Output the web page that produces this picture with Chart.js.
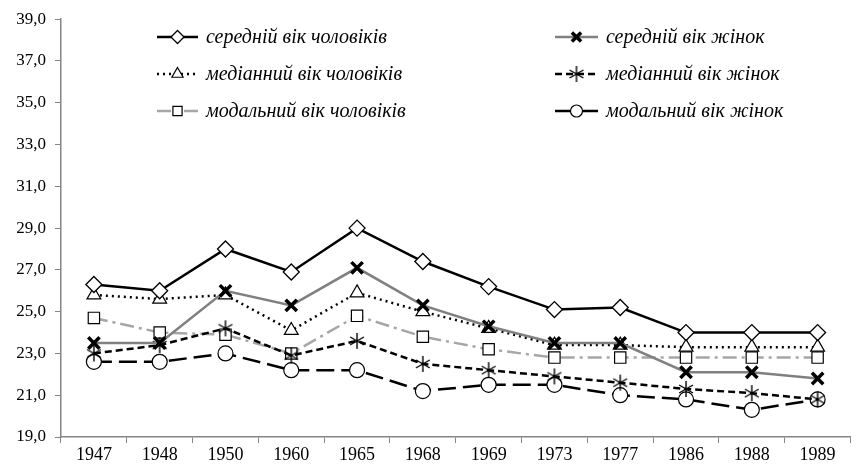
<!DOCTYPE html>
<html>
<head>
<meta charset="utf-8">
<script src="https://cdn.jsdelivr.net/npm/chart.js@4.4.1/dist/chart.umd.min.js"></script>
<style>
  html, body { margin: 0; padding: 0; background: #fff; }
  #wrap { width: 862px; height: 467px; }
</style>
</head>
<body>
<div id="wrap"><canvas id="chart" width="862" height="467"></canvas></div>
<script>
const years = ['1947', '1948', '1950', '1960', '1965', '1968', '1969', '1973', '1977', '1986', '1988', '1989'];

const meanMen = [26.3, 26.0, 28.0, 26.9, 29.0, 27.4, 26.2, 25.1, 25.2, 24.0, 24.0, 24.0];
const meanWomen = [23.5, 23.5, 26.0, 25.3, 27.1, 25.3, 24.3, 23.5, 23.5, 22.1, 22.1, 21.8];
const medianMen = [25.8, 25.6, 25.8, 24.1, 25.9, 25.0, 24.2, 23.4, 23.4, 23.3, 23.3, 23.3];
const medianWomen = [23.0, 23.4, 24.2, 22.9, 23.6, 22.5, 22.2, 21.9, 21.6, 21.3, 21.1, 20.8];
const modalMen = [24.7, 24.0, 23.9, 23.0, 24.8, 23.8, 23.2, 22.8, 22.8, 22.8, 22.8, 22.8];
const modalWomen = [22.6, 22.6, 23.0, 22.2, 22.2, 21.2, 21.5, 21.5, 21.0, 20.8, 20.3, 20.8];

const yTicks = [19, 21, 23, 25, 27, 29, 31, 33, 35, 37, 39];

// asterisk with 6 arms, like the original marker
function makeAsterisk(size) {
  const c = document.createElement('canvas');
  c.width = size; c.height = size;
  const g = c.getContext('2d');
  const r = size / 2 - 1;
  g.strokeStyle = '#000';
  g.lineWidth = 1.4;
  g.beginPath();
  for (let a = 0; a < 3; a++) {
    const ang = Math.PI / 2 + a * Math.PI / 3;
    g.moveTo(size / 2 + Math.cos(ang) * r, size / 2 + Math.sin(ang) * r);
    g.lineTo(size / 2 - Math.cos(ang) * r, size / 2 - Math.sin(ang) * r);
  }
  g.stroke();
  return c;
}
const asterisk = makeAsterisk(18);

const datasets = [
  {
    label: 'середній вік чоловіків', data: meanMen,
    borderColor: '#000', borderWidth: 2.5,
    pointStyle: 'rectRot', pointRadius: 8, pointBackgroundColor: '#fff', pointBorderColor: '#000', pointBorderWidth: 1.3
  },
  {
    label: 'середній вік жінок', data: meanWomen,
    borderColor: '#808080', borderWidth: 2.5,
    pointStyle: 'crossRot', pointRadius: 8, pointBorderColor: '#000', pointBorderWidth: 3.5
  },
  {
    label: 'медіанний вік чоловіків', data: medianMen,
    borderColor: '#000', borderWidth: 2.5, borderDash: [2, 4],
    pointStyle: 'triangle', pointRadius: 8, pointBackgroundColor: '#fff', pointBorderColor: '#000', pointBorderWidth: 1.2
  },
  {
    label: 'медіанний вік жінок', data: medianWomen,
    borderColor: '#000', borderWidth: 2.5, borderDash: [7, 4],
    pointStyle: asterisk, pointRadius: 9
  },
  {
    label: 'модальний вік чоловіків', data: modalMen,
    borderColor: '#a6a6a6', borderWidth: 2.5, borderDash: [14, 5, 3, 5],
    pointStyle: 'rect', pointRadius: 8, pointBackgroundColor: '#fff', pointBorderColor: '#000', pointBorderWidth: 1.2
  },
  {
    label: 'модальний вік жінок', data: modalWomen,
    borderColor: '#000', borderWidth: 2.5, borderDash: [18, 7],
    pointStyle: 'circle', pointRadius: 7.5, pointBackgroundColor: '#fff', pointBorderColor: '#000', pointBorderWidth: 1.2
  }
];

// legend in two columns drawn inside the plot area
const twoColLegend = {
  id: 'twoColLegend',
  afterDraw(chart) {
    const ctx = chart.ctx;
    const cols = [{ x0: 157, x1: 198, tx: 206 }, { x0: 555, x1: 598, tx: 606 }];
    const rows = [37, 74, 111];
    chart.data.datasets.forEach((ds, i) => {
      const col = cols[i % 2];
      const y = rows[Math.floor(i / 2)];
      ctx.save();
      ctx.strokeStyle = ds.borderColor;
      ctx.lineWidth = ds.borderWidth;
      ctx.setLineDash(ds.borderDash || []);
      ctx.beginPath();
      ctx.moveTo(col.x0, y);
      ctx.lineTo(col.x1, y);
      ctx.stroke();
      ctx.setLineDash([]);
      ctx.fillStyle = ds.pointBackgroundColor || '#fff';
      ctx.strokeStyle = ds.pointBorderColor || '#000';
      ctx.lineWidth = ds.pointBorderWidth || 1;
      Chart.helpers.drawPoint(ctx, {
        pointStyle: ds.pointStyle,
        radius: ds.pointRadius - 1.5,
        borderWidth: ds.pointBorderWidth || 1,
        rotation: 0
      }, (col.x0 + col.x1) / 2, y);
      ctx.font = 'italic 20px "Liberation Serif"';
      ctx.fillStyle = '#000';
      ctx.textBaseline = 'middle';
      ctx.fillText(ds.label, col.tx, y + 1);
      ctx.restore();
    });
  }
};

new Chart(document.getElementById('chart'), {
  type: 'line',
  data: { labels: years, datasets: datasets },
  plugins: [twoColLegend],
  options: {
    responsive: false,
    animation: false,
    layout: { padding: { top: 19, right: 1, left: 0, bottom: 0 } },
    elements: { line: { tension: 0 } },
    plugins: {
      legend: { display: false },
      tooltip: { enabled: false }
    },
    scales: {
      x: {
        offset: true,
        grid: { offset: true, drawOnChartArea: false, drawTicks: true, tickLength: 6, color: '#868686' },
        border: { color: '#868686', width: 1.5 },
        ticks: { color: '#000', font: { family: '"Liberation Serif"', size: 18 }, padding: 1, maxRotation: 0 },
        afterFit(scale) { scale.height = 30; }
      },
      y: {
        min: 19, max: 39,
        afterBuildTicks(scale) { scale.ticks = yTicks.map(v => ({ value: v })); },
        grid: { drawOnChartArea: false, drawTicks: true, tickLength: 6, color: '#868686' },
        border: { color: '#868686', width: 1.5 },
        ticks: {
          color: '#000', font: { family: '"Liberation Serif"', size: 17 }, padding: 9,
          callback: v => v.toFixed(1).replace('.', ',')
        },
        afterFit(scale) { scale.width = 61; }
      }
    }
  }
});
</script>
</body>
</html>
